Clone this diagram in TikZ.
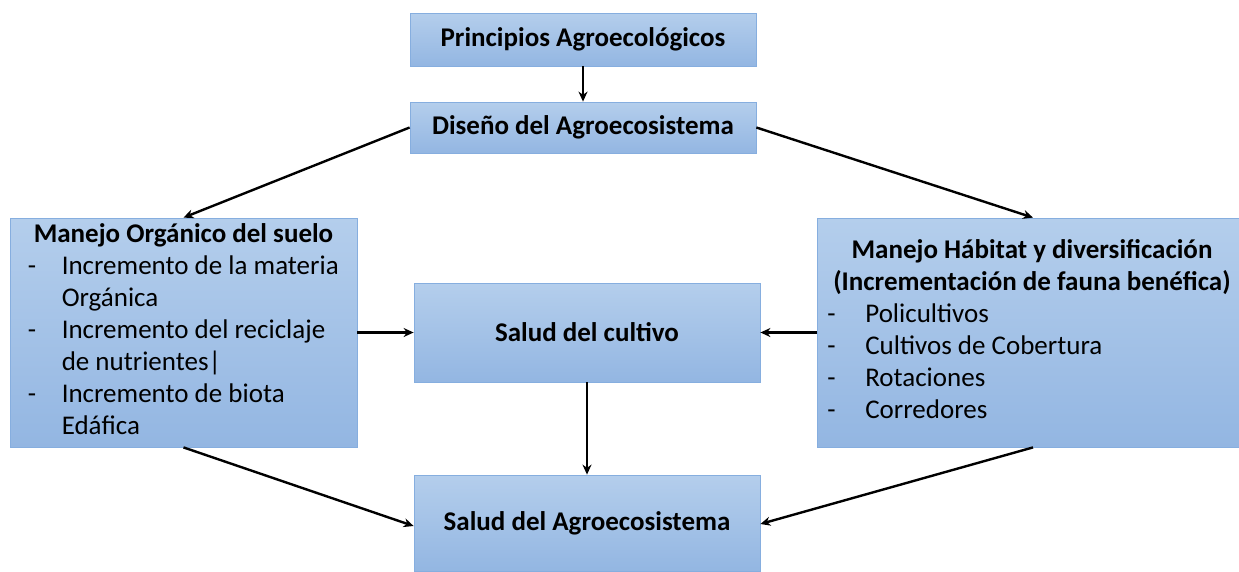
\documentclass[tikz,border=0pt]{standalone}
\usepackage{fontspec}
\setmainfont{Carlito}
\usetikzlibrary{arrows.meta}
\definecolor{boxtop}{HTML}{B4CEEC}
\definecolor{boxbot}{HTML}{93B6E2}
\definecolor{boxline}{HTML}{86AEDF}
\tikzset{
  box/.style={draw=boxline, line width=0.8pt, top color=boxtop, bottom color=boxbot,
    inner sep=0pt, font=\fontsize{27}{32}\selectfont},
  conn/.style={line width=2.4pt, -{Stealth[length=10pt,width=9pt]}}
}
\newcommand{\dashitem}{-}
\begin{document}
\begin{tikzpicture}[x=1pt,y=-1pt]
\useasboundingbox (0,0) rectangle (1239,571);
\node[box, minimum width=346pt, minimum height=53pt] (principios) at (583,39.5) {\textbf{Principios Agroecológicos}};
\node[box, minimum width=346pt, minimum height=51pt] (diseno) at (583,127.5) {\textbf{Diseño del Agroecosistema}};
\node[box, minimum width=347pt, minimum height=229pt] (suelo) at (183.5,332.5) {%
  \begin{tabular}{@{}p{22pt}l@{}}
  \multicolumn{2}{c}{\textbf{Manejo Orgánico del suelo}}\\
  \dashitem & Incremento de la materia\\
   & Orgánica\\
  \dashitem & Incremento del reciclaje\\
   & de nutrientes|\\
  \dashitem & Incremento de biota\\
   & Edáfica
  \end{tabular}};
\node[box, minimum width=422pt, minimum height=229pt] (habitat) at (1028,332.5) {%
  \hspace*{8pt}\begin{tabular}{@{}p{26pt}l@{}}
  \multicolumn{2}{c}{\textbf{Manejo Hábitat y diversificación}}\\
  \multicolumn{2}{c}{\textbf{(Incrementación de fauna benéfica)}}\\
  \dashitem & Policultivos\\
  \dashitem & Cultivos de Cobertura\\
  \dashitem & Rotaciones\\
  \dashitem & Corredores
  \end{tabular}};
\node[box, minimum width=346pt, minimum height=99pt] (cultivo) at (587,332.5) {\textbf{Salud del cultivo}};
\node[box, minimum width=346pt, minimum height=96pt] (agro) at (587,523) {\textbf{Salud del Agroecosistema}};
% conectores
\draw[conn] (principios) -- (diseno);
\draw[conn] (diseno.west) -- (suelo.north);
\draw[conn] (diseno.east) -- (habitat.north -| 1033,0);
\draw[conn] (suelo.east) -- (cultivo.west);
\draw[conn] (habitat.west) -- (cultivo.east);
\draw[conn] (cultivo) -- (agro);
\draw[conn] (suelo.south) -- ([yshift=-3pt]agro.west);
\draw[conn] (habitat.south -| 1033,0) -- ([yshift=-1pt]agro.east);
\end{tikzpicture}
\end{document}
